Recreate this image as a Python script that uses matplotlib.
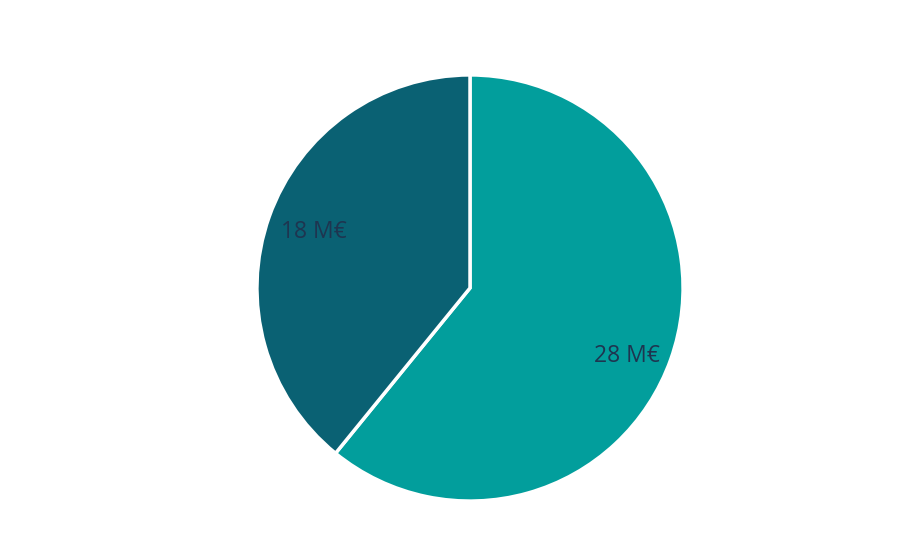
import matplotlib.pyplot as plt

labels = ['28 M€', '18 M€']
values = [28, 18]
colors = ['#029E9C', '#0A6173']

fig = plt.figure(figsize=(9.18, 5.58), dpi=100)
# pie centred at (470, 288) px, radius ~212 px
ax = fig.add_axes([(470 - 212) / 918, (558 - 288 - 212) / 558, 424 / 918, 424 / 558])

wedges, texts = ax.pie(values, labels=labels, colors=colors, startangle=90,
                       counterclock=False, labeldistance=0.78,
                       wedgeprops=dict(edgecolor='white', linewidth=2.5),
                       textprops=dict(fontsize=16.5, color='#1E3550', family=['Open Sans', 'DejaVu Sans']))
for t in texts:
    t.set_ha('center')
    t.set_va('center')

# the big label sits a little lower than the slice middle
x, y = texts[0].get_position()
texts[0].set_position((x, y - 0.06))

ax.set_xlim(-0.995, 0.995)
ax.set_ylim(-0.995, 0.995)
ax.set_aspect('equal')

plt.savefig('out.png', dpi=100)
